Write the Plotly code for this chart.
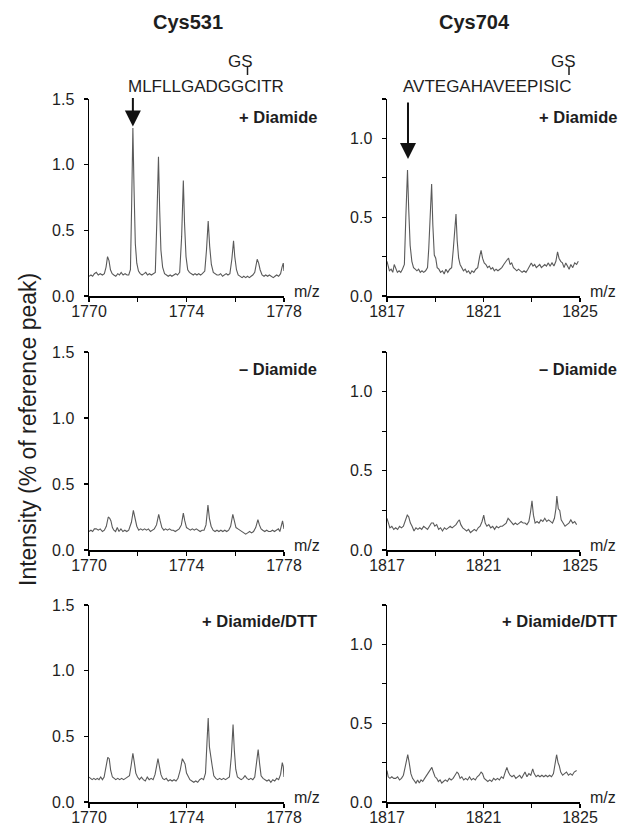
import plotly.graph_objects as go

W, H = 631, 825
FONT = "Liberation Sans"
TXT = "#1e1e1e"
LINE = "#5a5a5a"

# ---------------- data ----------------
# Cys531, + Diamide
c531_dia_mz = [1770.00, 1770.08, 1770.15, 1770.22, 1770.30, 1770.38, 1770.46, 1770.55, 1770.63, 1770.70,
               1770.76, 1770.82, 1770.88, 1770.95, 1771.02, 1771.10, 1771.18, 1771.25, 1771.32, 1771.40,
               1771.48, 1771.56, 1771.63, 1771.70, 1771.75, 1771.80, 1771.85, 1771.90, 1771.96, 1772.03,
               1772.10, 1772.18, 1772.26, 1772.33, 1772.40, 1772.48, 1772.56, 1772.63, 1772.72, 1772.78,
               1772.85, 1772.90, 1772.95, 1773.02, 1773.10, 1773.18, 1773.25, 1773.33, 1773.40, 1773.48,
               1773.56, 1773.63, 1773.72, 1773.80, 1773.87, 1773.92, 1773.98, 1774.05, 1774.12, 1774.20,
               1774.28, 1774.35, 1774.43, 1774.50, 1774.58, 1774.65, 1774.75, 1774.82, 1774.89, 1774.95,
               1775.02, 1775.10, 1775.18, 1775.25, 1775.33, 1775.40, 1775.48, 1775.56, 1775.63, 1775.70,
               1775.78, 1775.86, 1775.93, 1775.98, 1776.05, 1776.12, 1776.20, 1776.28, 1776.35, 1776.43,
               1776.50, 1776.58, 1776.65, 1776.72, 1776.80, 1776.86, 1776.90, 1776.96, 1777.02, 1777.10,
               1777.18, 1777.25, 1777.33, 1777.40, 1777.48, 1777.56, 1777.63, 1777.70, 1777.78, 1777.86,
               1777.92, 1777.97, 1778.00]
c531_dia_int = [0.15, 0.16, 0.15, 0.17, 0.18, 0.16, 0.17, 0.16, 0.17, 0.22,
                0.30, 0.27, 0.20, 0.17, 0.16, 0.15, 0.17, 0.16, 0.18, 0.16,
                0.17, 0.16, 0.16, 0.20, 0.70, 1.28, 0.80, 0.40, 0.25, 0.19,
                0.17, 0.16, 0.17, 0.18, 0.16, 0.17, 0.16, 0.17, 0.18, 0.55,
                1.06, 0.65, 0.35, 0.22, 0.17, 0.16, 0.15, 0.16, 0.15, 0.16,
                0.17, 0.16, 0.18, 0.45, 0.88, 0.55, 0.30, 0.20, 0.18, 0.17,
                0.16, 0.17, 0.16, 0.17, 0.16, 0.17, 0.19, 0.35, 0.57, 0.38,
                0.24, 0.18, 0.17, 0.16, 0.16, 0.17, 0.15, 0.16, 0.17, 0.16,
                0.17, 0.28, 0.42, 0.30, 0.20, 0.16, 0.15, 0.14, 0.15, 0.14,
                0.15, 0.14, 0.15, 0.16, 0.18, 0.26, 0.28, 0.25, 0.20, 0.16,
                0.15, 0.16, 0.15, 0.16, 0.15, 0.14, 0.15, 0.16, 0.15, 0.17,
                0.22, 0.25, 0.19]

# Cys704, + Diamide
c704_dia_mz = [1817.00, 1817.05, 1817.10, 1817.17, 1817.24, 1817.30, 1817.36, 1817.43, 1817.50, 1817.57,
               1817.64, 1817.72, 1817.78, 1817.85, 1817.90, 1817.96, 1818.03, 1818.10, 1818.17, 1818.24,
               1818.31, 1818.38, 1818.45, 1818.52, 1818.60, 1818.68, 1818.73, 1818.80, 1818.85, 1818.90,
               1818.96, 1819.02, 1819.08, 1819.15, 1819.22, 1819.30, 1819.37, 1819.44, 1819.52, 1819.60,
               1819.68, 1819.75, 1819.82, 1819.86, 1819.91, 1819.97, 1820.03, 1820.10, 1820.17, 1820.24,
               1820.31, 1820.38, 1820.45, 1820.52, 1820.60, 1820.68, 1820.76, 1820.84, 1820.90, 1820.96,
               1821.03, 1821.10, 1821.17, 1821.24, 1821.31, 1821.38, 1821.45, 1821.52, 1821.60, 1821.68,
               1821.76, 1821.84, 1821.92, 1821.98, 1822.04, 1822.10, 1822.17, 1822.24, 1822.31, 1822.38,
               1822.45, 1822.52, 1822.60, 1822.68, 1822.76, 1822.84, 1822.92, 1822.98, 1823.05, 1823.12,
               1823.19, 1823.26, 1823.33, 1823.40, 1823.47, 1823.54, 1823.61, 1823.68, 1823.76, 1823.84,
               1823.92, 1824.00, 1824.07, 1824.13, 1824.20, 1824.27, 1824.34, 1824.41, 1824.48, 1824.55,
               1824.62, 1824.70, 1824.78, 1824.86, 1824.93]
c704_dia_int = [0.22, 0.18, 0.16, 0.17, 0.15, 0.20, 0.17, 0.15, 0.16, 0.15,
                0.17, 0.20, 0.50, 0.80, 0.55, 0.32, 0.22, 0.18, 0.17, 0.16,
                0.17, 0.15, 0.16, 0.15, 0.16, 0.18, 0.30, 0.60, 0.71, 0.45,
                0.26, 0.24, 0.18, 0.17, 0.15, 0.16, 0.14, 0.17, 0.15, 0.17,
                0.18, 0.30, 0.45, 0.52, 0.35, 0.24, 0.20, 0.18, 0.16, 0.17,
                0.15, 0.16, 0.14, 0.16, 0.15, 0.17, 0.18, 0.25, 0.29, 0.24,
                0.21, 0.20, 0.18, 0.19, 0.17, 0.18, 0.16, 0.17, 0.16, 0.17,
                0.18, 0.20, 0.22, 0.23, 0.24, 0.20, 0.21, 0.18, 0.17, 0.16,
                0.17, 0.16, 0.15, 0.16, 0.15, 0.17, 0.20, 0.21, 0.19, 0.20,
                0.18, 0.19, 0.20, 0.18, 0.19, 0.20, 0.19, 0.21, 0.19, 0.21,
                0.19, 0.22, 0.28, 0.24, 0.22, 0.21, 0.18, 0.21, 0.19, 0.17,
                0.20, 0.18, 0.21, 0.20, 0.22]

# Cys531, - Diamide
c531_ctl_mz = [1770.00, 1770.08, 1770.15, 1770.22, 1770.30, 1770.38, 1770.46, 1770.55, 1770.63, 1770.71,
               1770.79, 1770.85, 1770.90, 1770.96, 1771.02, 1771.09, 1771.16, 1771.23, 1771.31, 1771.39,
               1771.47, 1771.55, 1771.63, 1771.74, 1771.82, 1771.89, 1771.96, 1772.04, 1772.12, 1772.20,
               1772.28, 1772.36, 1772.44, 1772.52, 1772.60, 1772.68, 1772.77, 1772.86, 1772.92, 1772.99,
               1773.07, 1773.14, 1773.22, 1773.30, 1773.38, 1773.46, 1773.54, 1773.62, 1773.70, 1773.79,
               1773.87, 1773.93, 1774.00, 1774.08, 1774.16, 1774.24, 1774.32, 1774.40, 1774.48, 1774.56,
               1774.64, 1774.72, 1774.80, 1774.88, 1774.94, 1775.01, 1775.09, 1775.17, 1775.25, 1775.33,
               1775.41, 1775.49, 1775.57, 1775.65, 1775.73, 1775.81, 1775.90, 1775.96, 1776.03, 1776.11,
               1776.19, 1776.27, 1776.35, 1776.43, 1776.51, 1776.59, 1776.67, 1776.75, 1776.84, 1776.93,
               1776.99, 1777.06, 1777.13, 1777.21, 1777.29, 1777.37, 1777.45, 1777.53, 1777.61, 1777.69,
               1777.77, 1777.83, 1777.89, 1777.94, 1778.00]
c531_ctl_int = [0.14, 0.15, 0.14, 0.16, 0.16, 0.15, 0.16, 0.14, 0.15, 0.18,
                0.25, 0.24, 0.22, 0.17, 0.15, 0.14, 0.17, 0.14, 0.16, 0.14,
                0.15, 0.14, 0.15, 0.21, 0.30, 0.24, 0.18, 0.15, 0.16, 0.15,
                0.16, 0.15, 0.16, 0.14, 0.15, 0.16, 0.19, 0.27, 0.22, 0.17,
                0.15, 0.16, 0.15, 0.16, 0.15, 0.15, 0.14, 0.15, 0.16, 0.19,
                0.28, 0.22, 0.17, 0.16, 0.15, 0.16, 0.15, 0.16, 0.15, 0.14,
                0.15, 0.15, 0.19, 0.34, 0.24, 0.18, 0.15, 0.14, 0.15, 0.14,
                0.15, 0.14, 0.15, 0.14, 0.15, 0.18, 0.27, 0.21, 0.17, 0.16,
                0.15, 0.14, 0.13, 0.12, 0.13, 0.14, 0.13, 0.14, 0.17, 0.23,
                0.19, 0.16, 0.15, 0.14, 0.15, 0.14, 0.14, 0.15, 0.14, 0.15,
                0.16, 0.14, 0.18, 0.22, 0.16]

# Cys704, - Diamide
c704_ctl_mz = [1817.00, 1817.05, 1817.12, 1817.20, 1817.28, 1817.36, 1817.44, 1817.52, 1817.60, 1817.68,
               1817.76, 1817.84, 1817.90, 1817.97, 1818.04, 1818.12, 1818.20, 1818.28, 1818.36, 1818.44,
               1818.52, 1818.60, 1818.68, 1818.76, 1818.84, 1818.92, 1818.98, 1819.06, 1819.14, 1819.22,
               1819.30, 1819.38, 1819.46, 1819.54, 1819.62, 1819.70, 1819.78, 1819.86, 1819.94, 1820.00,
               1820.06, 1820.14, 1820.22, 1820.30, 1820.38, 1820.46, 1820.54, 1820.62, 1820.70, 1820.78,
               1820.86, 1820.94, 1821.01, 1821.07, 1821.14, 1821.22, 1821.30, 1821.38, 1821.46, 1821.54,
               1821.62, 1821.70, 1821.78, 1821.86, 1821.94, 1822.02, 1822.08, 1822.16, 1822.24, 1822.32,
               1822.40, 1822.48, 1822.56, 1822.64, 1822.72, 1822.80, 1822.88, 1822.95, 1823.01, 1823.07,
               1823.14, 1823.22, 1823.30, 1823.38, 1823.46, 1823.54, 1823.62, 1823.70, 1823.78, 1823.86,
               1823.94, 1824.00, 1824.04, 1824.10, 1824.16, 1824.22, 1824.30, 1824.38, 1824.46, 1824.54,
               1824.62, 1824.70, 1824.78, 1824.86]
c704_ctl_int = [0.20, 0.17, 0.14, 0.15, 0.13, 0.14, 0.13, 0.15, 0.14, 0.15,
                0.18, 0.22, 0.21, 0.17, 0.15, 0.12, 0.14, 0.13, 0.14, 0.13,
                0.15, 0.14, 0.13, 0.15, 0.17, 0.17, 0.15, 0.16, 0.13, 0.14,
                0.12, 0.14, 0.13, 0.14, 0.15, 0.14, 0.15, 0.16, 0.18, 0.19,
                0.16, 0.14, 0.13, 0.12, 0.13, 0.11, 0.12, 0.13, 0.12, 0.14,
                0.15, 0.18, 0.22, 0.17, 0.15, 0.16, 0.14, 0.15, 0.13, 0.15,
                0.14, 0.15, 0.15, 0.16, 0.17, 0.20, 0.19, 0.17, 0.16, 0.17,
                0.16, 0.17, 0.18, 0.17, 0.17, 0.16, 0.18, 0.24, 0.31, 0.22,
                0.17, 0.18, 0.17, 0.19, 0.18, 0.20, 0.18, 0.19, 0.18, 0.17,
                0.20, 0.26, 0.34, 0.26, 0.25, 0.19, 0.17, 0.15, 0.16, 0.17,
                0.19, 0.17, 0.18, 0.16]

# Cys531, + Diamide/DTT
c531_dtt_mz = [1770.00, 1770.06, 1770.13, 1770.20, 1770.27, 1770.34, 1770.41, 1770.48, 1770.55, 1770.62,
               1770.70, 1770.77, 1770.83, 1770.89, 1770.96, 1771.03, 1771.10, 1771.18, 1771.26, 1771.34,
               1771.42, 1771.50, 1771.58, 1771.66, 1771.73, 1771.80, 1771.86, 1771.92, 1771.99, 1772.07,
               1772.15, 1772.23, 1772.31, 1772.39, 1772.47, 1772.55, 1772.63, 1772.71, 1772.77, 1772.83,
               1772.89, 1772.95, 1773.02, 1773.09, 1773.17, 1773.25, 1773.33, 1773.41, 1773.49, 1773.57,
               1773.65, 1773.74, 1773.83, 1773.89, 1773.94, 1774.00, 1774.07, 1774.14, 1774.22, 1774.30,
               1774.38, 1774.46, 1774.54, 1774.62, 1774.70, 1774.78, 1774.84, 1774.89, 1774.94, 1774.99,
               1775.05, 1775.12, 1775.20, 1775.28, 1775.36, 1775.44, 1775.52, 1775.60, 1775.68, 1775.76,
               1775.84, 1775.91, 1775.96, 1776.02, 1776.09, 1776.16, 1776.24, 1776.32, 1776.40, 1776.48,
               1776.56, 1776.64, 1776.72, 1776.80, 1776.88, 1776.94, 1777.00, 1777.06, 1777.14, 1777.22,
               1777.30, 1777.38, 1777.46, 1777.54, 1777.62, 1777.70, 1777.78, 1777.86, 1777.93, 1777.97,
               1778.00]
c531_dtt_int = [0.19, 0.18, 0.17, 0.18, 0.17, 0.18, 0.17, 0.19, 0.17, 0.19,
                0.26, 0.34, 0.33, 0.24, 0.19, 0.18, 0.17, 0.18, 0.17, 0.18,
                0.17, 0.18, 0.19, 0.20, 0.28, 0.37, 0.30, 0.22, 0.19, 0.17,
                0.19, 0.17, 0.16, 0.19, 0.17, 0.18, 0.17, 0.21, 0.27, 0.33,
                0.27, 0.21, 0.18, 0.17, 0.18, 0.16, 0.17, 0.16, 0.17, 0.16,
                0.18, 0.24, 0.33, 0.31, 0.29, 0.22, 0.19, 0.17, 0.16, 0.15,
                0.16, 0.15, 0.17, 0.18, 0.17, 0.22, 0.45, 0.64, 0.42, 0.34,
                0.28, 0.20, 0.18, 0.17, 0.18, 0.17, 0.18, 0.17, 0.18, 0.19,
                0.35, 0.59, 0.40, 0.25, 0.19, 0.18, 0.17, 0.18, 0.20, 0.18,
                0.17, 0.18, 0.17, 0.19, 0.30, 0.40, 0.29, 0.20, 0.18, 0.17,
                0.16, 0.17, 0.15, 0.17, 0.16, 0.18, 0.17, 0.21, 0.30, 0.27,
                0.19]

# Cys704, + Diamide/DTT
c704_dtt_mz = [1817.00, 1817.05, 1817.12, 1817.20, 1817.28, 1817.36, 1817.44, 1817.52, 1817.60, 1817.68,
               1817.75, 1817.82, 1817.86, 1817.92, 1817.99, 1818.06, 1818.13, 1818.20, 1818.27, 1818.34,
               1818.41, 1818.48, 1818.56, 1818.64, 1818.72, 1818.80, 1818.86, 1818.92, 1818.99, 1819.06,
               1819.13, 1819.20, 1819.27, 1819.34, 1819.42, 1819.50, 1819.58, 1819.66, 1819.74, 1819.82,
               1819.90, 1819.96, 1820.03, 1820.10, 1820.18, 1820.26, 1820.34, 1820.42, 1820.50, 1820.58,
               1820.66, 1820.74, 1820.82, 1820.90, 1820.96, 1821.03, 1821.10, 1821.18, 1821.26, 1821.34,
               1821.42, 1821.50, 1821.58, 1821.66, 1821.74, 1821.82, 1821.90, 1821.97, 1822.03, 1822.10,
               1822.18, 1822.26, 1822.34, 1822.42, 1822.50, 1822.58, 1822.66, 1822.72, 1822.80, 1822.88,
               1822.96, 1823.04, 1823.10, 1823.18, 1823.26, 1823.34, 1823.42, 1823.50, 1823.58, 1823.66,
               1823.74, 1823.82, 1823.90, 1823.97, 1824.03, 1824.09, 1824.14, 1824.20, 1824.28, 1824.36,
               1824.44, 1824.52, 1824.60, 1824.68, 1824.76, 1824.86]
c704_dtt_int = [0.20, 0.16, 0.15, 0.16, 0.15, 0.15, 0.16, 0.14, 0.15, 0.17,
                0.22, 0.28, 0.30, 0.25, 0.18, 0.15, 0.13, 0.12, 0.14, 0.12,
                0.14, 0.13, 0.15, 0.17, 0.19, 0.21, 0.22, 0.19, 0.16, 0.15,
                0.13, 0.14, 0.12, 0.13, 0.14, 0.13, 0.15, 0.14, 0.15, 0.17,
                0.19, 0.18, 0.15, 0.16, 0.14, 0.15, 0.14, 0.16, 0.14, 0.15,
                0.14, 0.16, 0.17, 0.19, 0.18, 0.15, 0.14, 0.13, 0.14, 0.13,
                0.15, 0.14, 0.15, 0.14, 0.16, 0.15, 0.19, 0.22, 0.19, 0.17,
                0.16, 0.17, 0.15, 0.16, 0.17, 0.15, 0.17, 0.19, 0.16, 0.18,
                0.17, 0.21, 0.18, 0.16, 0.17, 0.16, 0.17, 0.16, 0.17, 0.16,
                0.17, 0.16, 0.18, 0.24, 0.30, 0.25, 0.23, 0.19, 0.17, 0.18,
                0.19, 0.17, 0.18, 0.17, 0.19, 0.20]

col_titles = ["Cys531", "Cys704"]
peptides = ["MLFLLGADGGCITR", "AVTEGAHAVEEPISIC"]
conditions = ["+ Diamide", "\u2013 Diamide", "+ Diamide/DTT"]
y_title = "Intensity (% of reference peak)"

left_xticks = [1770, 1772, 1774, 1776, 1778]
left_xlabels = ["1770", "", "1774", "", "1778"]
right_xticks = [1817, 1819, 1821, 1823, 1825]
right_xlabels = ["1817", "", "1821", "", "1825"]
left_yticks = [0, 0.5, 1.0, 1.5]
left_ylabels = ["0.0", "0.5", "1.0", "1.5"]
right_yticks = [0, 0.25, 0.5, 0.75, 1.0, 1.25]
right_ylabels = ["0.0", "", "0.5", "", "1.0", ""]

panels = [
    (c531_dia_mz, c531_dia_int), (c704_dia_mz, c704_dia_int),
    (c531_ctl_mz, c531_ctl_int), (c704_ctl_mz, c704_ctl_int),
    (c531_dtt_mz, c531_dtt_int), (c704_dtt_mz, c704_dtt_int),
]

# ---------------- layout geometry (pixels) ----------------
def PX(x):
    return x / W

def PY(y):
    return 1 - y / H

col_px = [(89, 284), (387, 580)]
row_px = [(99, 296), (352, 550), (605, 802)]

fig = go.Figure()
layout = dict(
    template="none",
    width=W, height=H, margin=dict(l=0, r=0, t=0, b=0, autoexpand=False),
    paper_bgcolor="white", plot_bgcolor="white", showlegend=False,
    font=dict(family=FONT, color=TXT, size=16),
)

for i, (mz, inten) in enumerate(panels):
    r, c = divmod(i, 2)
    n = "" if i == 0 else str(i + 1)
    fig.add_trace(go.Scatter(x=mz, y=inten, mode="lines",
                             line=dict(color=LINE, width=1.1),
                             xaxis="x" + n, yaxis="y" + n, hoverinfo="skip"))
    x0, x1 = col_px[c]
    y0, y1 = row_px[r]
    common = dict(showline=True, linecolor="black", linewidth=1.5, ticks="outside",
                  ticklen=4, tickwidth=1.2, tickcolor="black", showgrid=False, zeroline=False,
                  automargin=False,
                  tickfont=dict(family=FONT, size=16, color=TXT), fixedrange=True)
    layout["xaxis" + n] = dict(
        domain=[PX(x0), PX(x1)], anchor="y" + n,
        range=[1770, 1778] if c == 0 else [1817, 1825],
        tickmode="array",
        tickvals=left_xticks if c == 0 else right_xticks,
        ticktext=left_xlabels if c == 0 else right_xlabels,
        ticklabelstandoff=-4,
        **common)
    layout["yaxis" + n] = dict(
        domain=[PY(y1), PY(y0)], anchor="x" + n,
        range=[0, 1.5] if c == 0 else [0, 1.25],
        tickmode="array",
        tickvals=left_yticks if c == 0 else right_yticks,
        ticktext=left_ylabels if c == 0 else right_ylabels,
        ticklabelstandoff=6,
        **common)

fig.update_layout(**layout)

ann = []
shapes = []
# column titles
for c, t in enumerate(col_titles):
    cx = [188, 474][c]
    ann.append(dict(text="<b>%s</b>" % t, x=PX(cx), y=PY(22), xref="paper", yref="paper",
                    showarrow=False, xanchor="center", yanchor="middle",
                    font=dict(family=FONT, size=20, color=TXT)))
# peptides + GS
pep_cx = [206, 487]
gs_cx = [240, 563]
bar_x = [247.5, 569]
for c in range(2):
    ann.append(dict(text=peptides[c], x=PX(pep_cx[c]), y=PY(86), xref="paper", yref="paper",
                    showarrow=False, xanchor="center", yanchor="middle",
                    font=dict(family=FONT, size=17, color=TXT)))
    ann.append(dict(text="GS", x=PX(gs_cx[c]), y=PY(61), xref="paper", yref="paper",
                    showarrow=False, xanchor="center", yanchor="middle",
                    font=dict(family=FONT, size=17, color=TXT)))
    shapes.append(dict(type="line", xref="paper", yref="paper",
                       x0=PX(bar_x[c]), x1=PX(bar_x[c]), y0=PY(67), y1=PY(75),
                       line=dict(color=TXT, width=1.5)))
# condition labels and m/z labels
cond_y = [117, 369, 621]
for r in range(3):
    for c in range(2):
        ann.append(dict(text="<b>%s</b>" % conditions[r], x=PX([319, 619][c]), y=PY(cond_y[r]),
                        xref="paper", yref="paper", showarrow=False,
                        xanchor="right", yanchor="middle",
                        font=dict(family=FONT, size=16.5, color=TXT)))
        ann.append(dict(text="m/z", x=PX(col_px[c][1] + 8), y=PY(row_px[r][1] - 5),
                        xref="paper", yref="paper", showarrow=False,
                        xanchor="left", yanchor="middle",
                        font=dict(family=FONT, size=16, color=TXT)))
# arrows marking the monoisotopic peak
ann.append(dict(text="", x=1771.80, y=1.29, xref="x", yref="y", ax=0, ay=-30,
                showarrow=True, arrowhead=2, arrowsize=1.6, arrowwidth=2, arrowcolor="#111"))
ann.append(dict(text="", x=1817.87, y=0.87, xref="x2", yref="y2", ax=0, ay=-58,
                showarrow=True, arrowhead=2, arrowsize=1.6, arrowwidth=2, arrowcolor="#111"))
# y-axis title
ann.append(dict(text=y_title, x=PX(28), y=PY(430), xref="paper", yref="paper",
                showarrow=False, textangle=-90, xanchor="center", yanchor="middle",
                font=dict(family=FONT, size=23, color=TXT)))

fig.update_layout(annotations=ann, shapes=shapes)
fig.write_html("out.html", config={"displayModeBar": False, "staticPlot": True},
               post_script="document.body.style.margin='0px';")
